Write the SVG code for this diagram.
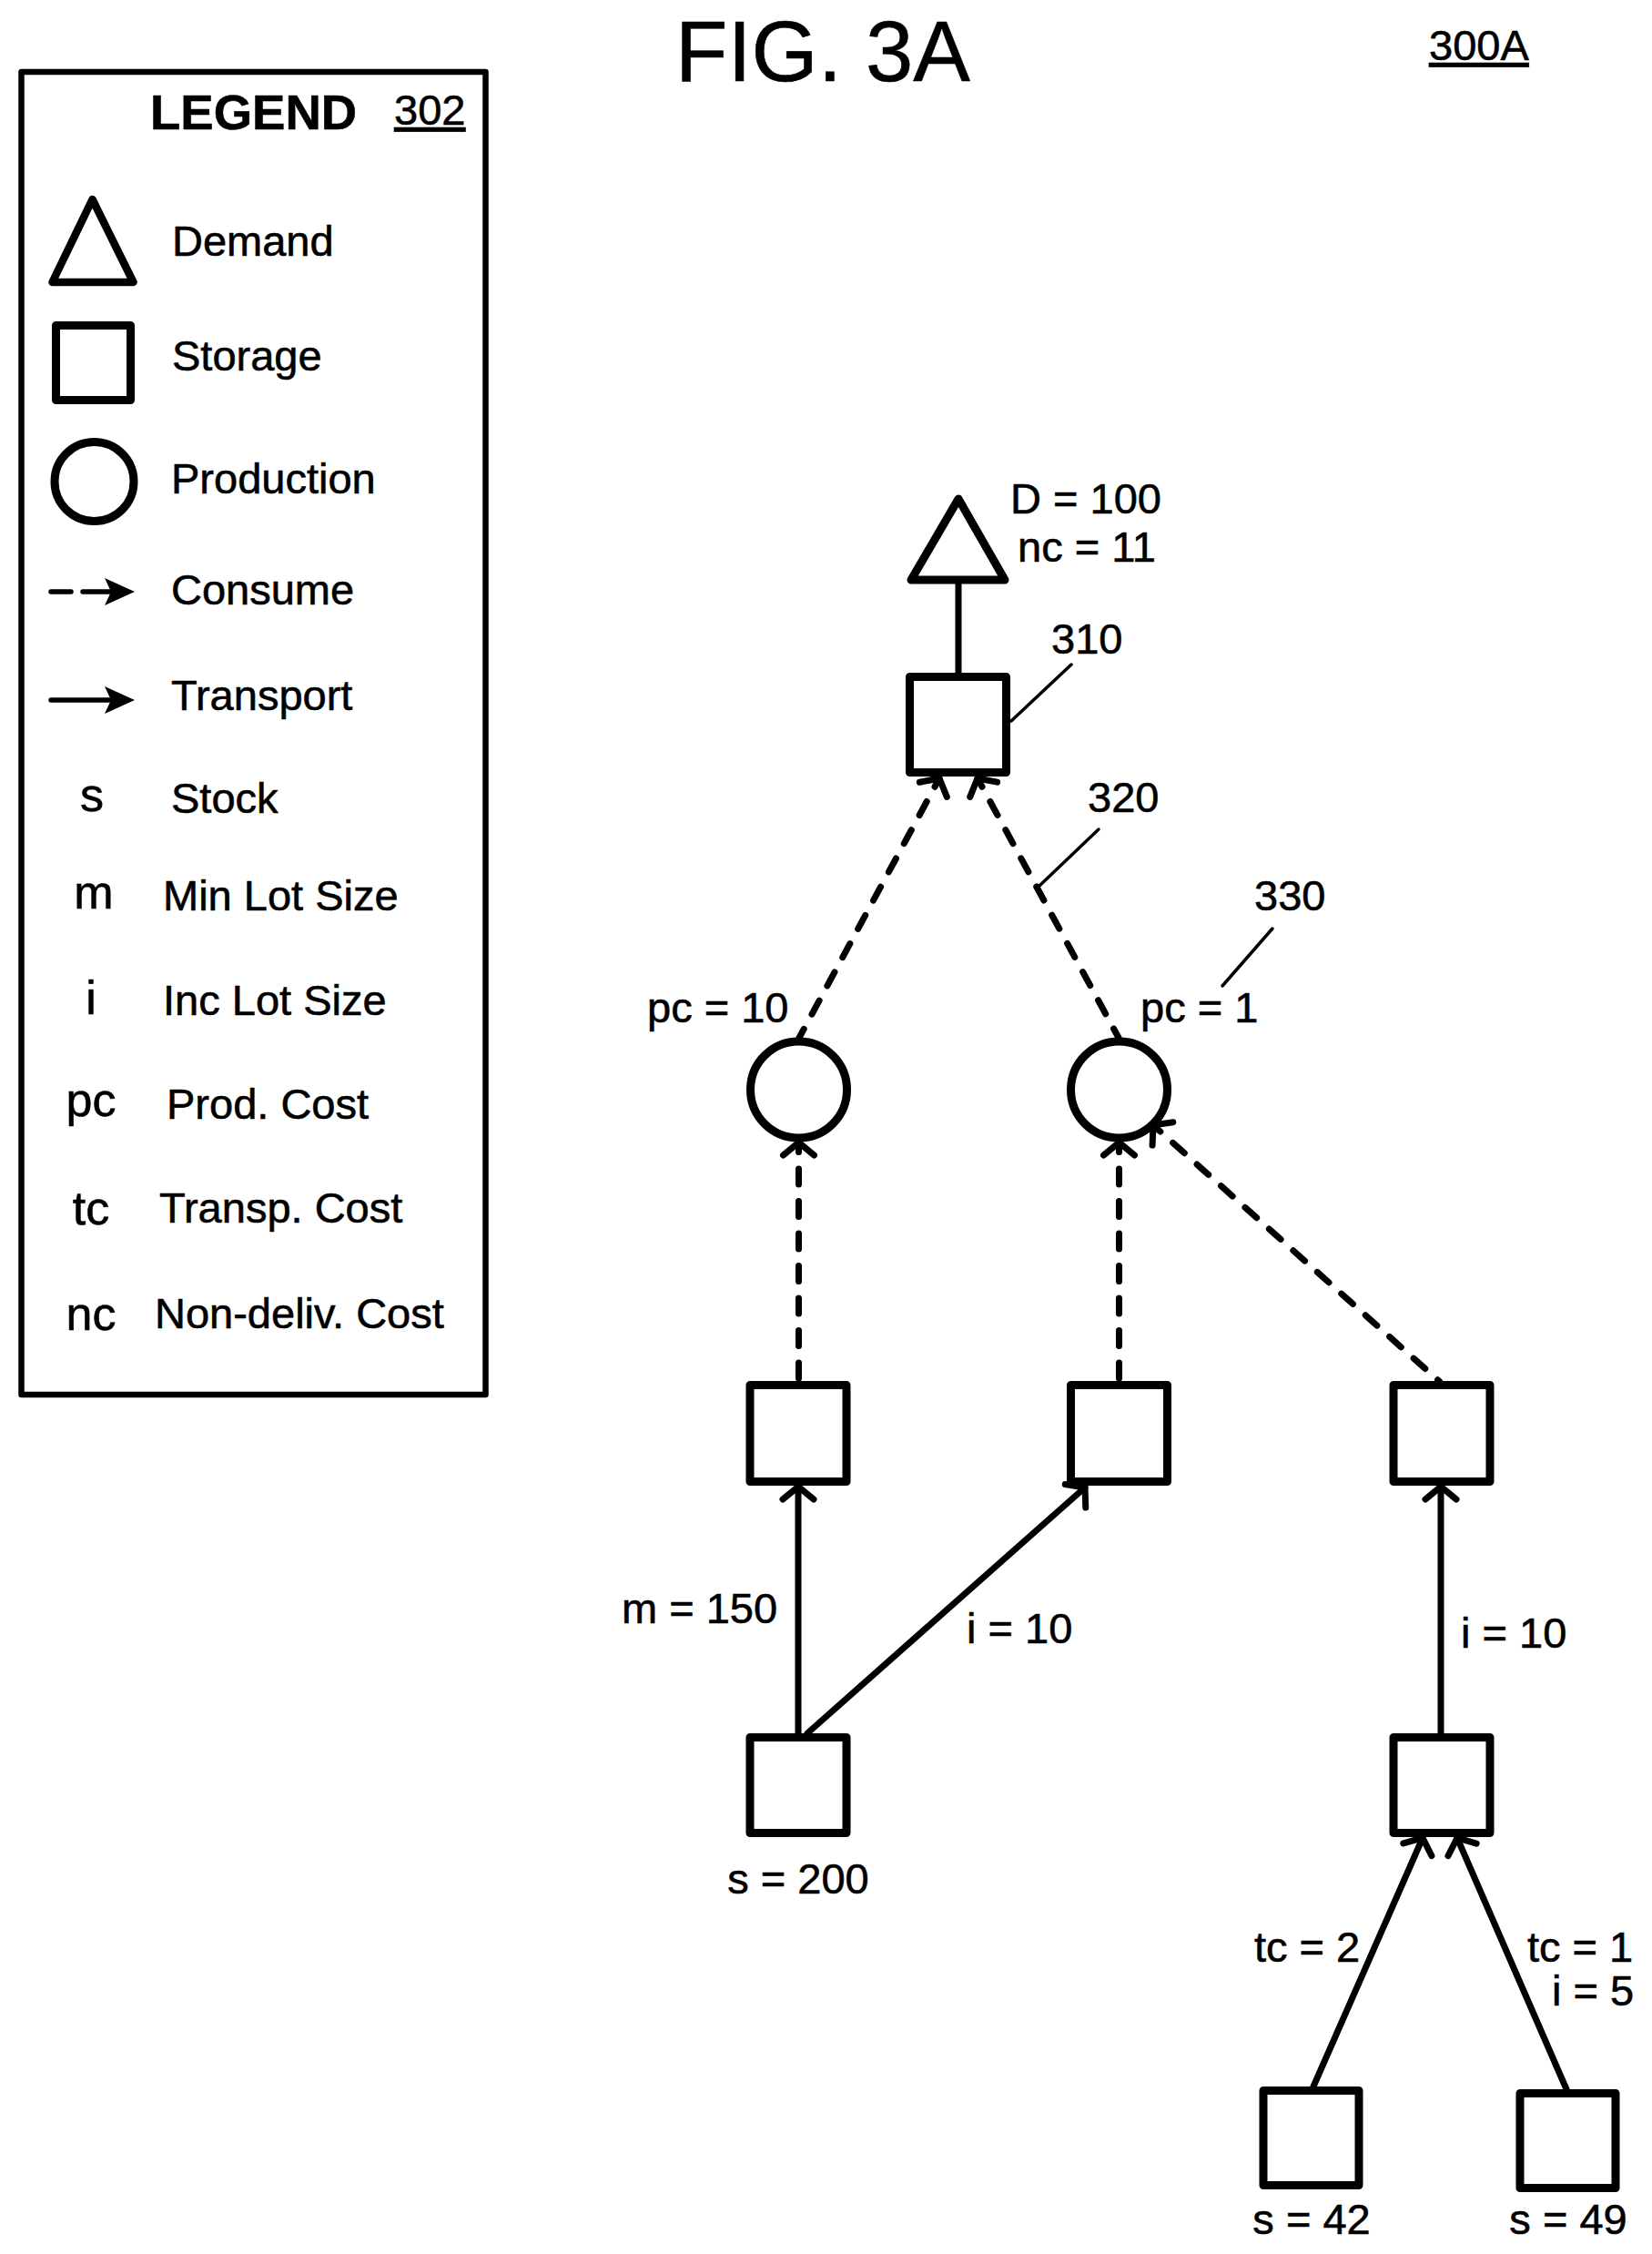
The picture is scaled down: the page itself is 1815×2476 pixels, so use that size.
<svg xmlns="http://www.w3.org/2000/svg" width="1815" height="2476" viewBox="0 0 1815 2476">
<style>
text{font-family:"Liberation Sans",Arial,sans-serif;font-size:47px;fill:#000;stroke:#000;stroke-width:.6}
.m{text-anchor:middle}
.sym{font-size:52px;text-anchor:middle}
.u{text-decoration:underline}
.shape{fill:#fff;stroke:#000;stroke-width:9;stroke-linejoin:round}
.tr{fill:none;stroke:#000;stroke-width:7;stroke-linecap:round}
.co{fill:none;stroke:#000;stroke-width:7;stroke-linecap:round;stroke-dasharray:17 18.5;stroke-dashoffset:6.5}
.lead{fill:none;stroke:#000;stroke-width:3.5;stroke-linecap:round}
</style>
<defs>
<marker id="open" markerUnits="userSpaceOnUse" orient="auto-start-reverse" markerWidth="50" markerHeight="50" refX="30" refY="25" overflow="visible"><path d="M16,8 L30,25 L16,42" fill="none" stroke="#000" stroke-width="7" stroke-linecap="round"/></marker>
</defs>
<rect width="1815" height="2476" fill="#fff"/>
<text id="title" x="742" y="89" style="font-size:94px">FIG. 3A</text>
<text id="figref" class="u" x="1570" y="66" style="font-size:47px">300A</text>

<g id="legend">
<rect x="23.5" y="79" width="510" height="1453" fill="none" stroke="#000" stroke-width="6.5" stroke-linejoin="round"/>
<text x="165" y="142" style="font-weight:bold;font-size:54.5px">LEGEND</text>
<text class="u" x="433" y="137">302</text>
<path class="shape" style="fill:none;stroke-width:8.5" d="M101.5,219 L146.5,310 L57.5,310 Z"/>
<rect class="shape" style="fill:none" x="61.5" y="357.5" width="82" height="82"/>
<circle class="shape" style="fill:none" cx="103.5" cy="529" r="43.5"/>
<path fill="none" stroke="#000" stroke-width="5.5" stroke-linecap="round" d="M56,650 H78 M91,650 H122"/>
<path d="M115,635 L148,650 L115,665 L122,650 Z" fill="#000"/>
<path fill="none" stroke="#000" stroke-width="5.5" stroke-linecap="round" d="M56,769 H122"/>
<path d="M115,754 L148,769 L115,784 L122,769 Z" fill="#000"/>
<text x="189" y="281">Demand</text>
<text x="189" y="407">Storage</text>
<text x="188" y="542">Production</text>
<text x="188" y="664">Consume</text>
<text x="188" y="780">Transport</text>
<text class="sym" x="101" y="891">s</text><text x="188" y="893">Stock</text>
<text class="sym" x="103" y="998">m</text><text x="179" y="1000">Min Lot Size</text>
<text class="sym" x="100" y="1114">i</text><text x="179" y="1115">Inc Lot Size</text>
<text class="sym" x="100" y="1226">pc</text><text x="183" y="1229">Prod. Cost</text>
<text class="sym" x="100" y="1345">tc</text><text x="175" y="1343">Transp. Cost</text>
<text class="sym" x="100" y="1461">nc</text><text x="170" y="1459">Non-deliv. Cost</text>
</g>

<g id="nodes">
<g id="demand"><path class="shape" d="M1053,548 L1104,637 L1001,637 Z"/><text x="1110" y="564">D = 100</text><text x="1118" y="617">nc = 11</text></g>
<g id="storage-310"><rect class="shape" x="999.5" y="743.5" width="106" height="105"/></g>
<g id="prod-left"><circle class="shape" cx="877.5" cy="1197" r="53"/><text x="711" y="1123">pc = 10</text></g>
<g id="prod-right"><circle class="shape" cx="1229.5" cy="1197" r="53"/><text x="1253" y="1123">pc = 1</text></g>
<g id="storage-a"><rect class="shape" x="824" y="1521.5" width="106" height="106"/></g>
<g id="storage-b"><rect class="shape" x="1176.5" y="1521.5" width="106" height="106"/></g>
<g id="storage-c"><rect class="shape" x="1531" y="1521.5" width="106" height="106"/></g>
<g id="storage-d"><rect class="shape" x="824" y="1908.5" width="106" height="105"/><text class="m" x="877" y="2080">s = 200</text></g>
<g id="storage-e"><rect class="shape" x="1531" y="1908.5" width="106" height="105"/></g>
<g id="storage-f"><rect class="shape" x="1388" y="2296.5" width="105" height="104"/><text class="m" x="1441" y="2454">s = 42</text></g>
<g id="storage-g"><rect class="shape" x="1670" y="2299.5" width="105" height="104"/><text class="m" x="1723" y="2454">s = 49</text></g>
</g>

<g id="connectors">
<path class="tr" d="M1053,640 V741"/>
<path class="co" marker-start="url(#open)" d="M1032,855 L878,1140"/>
<path class="co" marker-start="url(#open)" d="M1074,855 L1229,1140"/>
<path class="co" marker-start="url(#open)" d="M877.5,1255 V1518"/>
<path class="co" marker-start="url(#open)" d="M1229.5,1255 V1518"/>
<path class="co" marker-start="url(#open)" d="M1267,1236 L1582,1518"/>
<path class="tr" marker-end="url(#open)" d="M877,1904 V1633"/>
<path class="tr" marker-end="url(#open)" d="M887,1904 L1192,1634"/>
<path class="tr" marker-end="url(#open)" d="M1583,1904 V1633"/>
<path class="tr" marker-end="url(#open)" d="M1443,2292 L1563,2019"/>
<path class="tr" marker-end="url(#open)" d="M1721,2295 L1601,2019"/>
<path class="lead" d="M1111,792 L1177,730"/>
<path class="lead" d="M1141,974 L1207,911"/>
<path class="lead" d="M1343,1083 L1398,1020"/>
</g>

<g id="labels">
<text x="1155" y="718">310</text>
<text x="1195" y="892">320</text>
<text x="1378" y="1000">330</text>
<text x="683" y="1783">m = 150</text>
<text x="1062" y="1805">i = 10</text>
<text x="1605" y="1810">i = 10</text>
<text x="1378" y="2155">tc = 2</text>
<text x="1678" y="2155">tc = 1</text>
<text x="1705" y="2203">i = 5</text>
</g>
</svg>
